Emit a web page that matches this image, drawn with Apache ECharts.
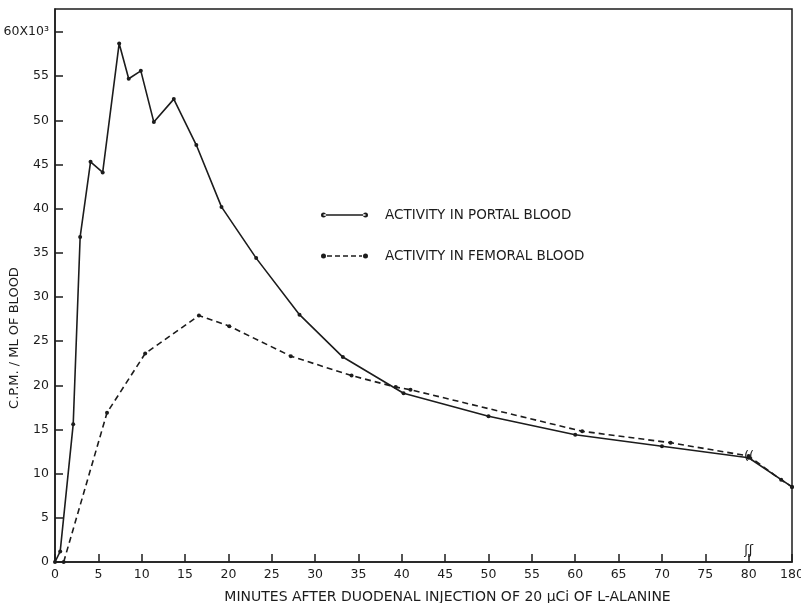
<!DOCTYPE html>
<html>
<head>
<meta charset="utf-8">
<script src="https://cdn.jsdelivr.net/npm/echarts@6/dist/echarts.min.js"></script>
<style>
  html, body { margin: 0; padding: 0; background: #fff; }
  #main { width: 801px; height: 603px; }
</style>
</head>
<body>
<div id="main"></div>
<script>
// minutes after injection / counts per minute (x10^3)
var portalMin = [0, 0.6, 2.1, 2.9, 4.1, 5.5, 7.4, 8.5, 9.9, 11.4, 13.7, 16.3, 19.2, 23.2, 28.2, 33.2, 40.2, 50, 60, 70, 80, 180];
var portalCpm = [0, 1.2, 15.6, 36.8, 45.3, 44.1, 58.7, 54.7, 55.6, 49.8, 52.4, 47.2, 40.2, 34.4, 28.0, 23.2, 19.1, 16.5, 14.4, 13.1, 11.8, 8.5];
var femoralMin = [1, 6, 10.4, 16.6, 20.1, 27.2, 34.2, 39.3, 41, 60.8, 71, 80, 155, 180];
var femoralCpm = [0, 16.9, 23.6, 27.9, 26.7, 23.3, 21.1, 19.8, 19.5, 14.8, 13.5, 12.0, 9.3, 8.5];
var yTicks = [0, 5, 10, 15, 20, 25, 30, 35, 40, 45, 50, 55, 60];

var ink = '#1c1c1c';
var font = 'DejaVu Sans';

// axis is broken after 80 min: 80..180 squeezed into one 5-min step
function toAxis(m) {
    return m <= 80 ? m : 80 + (m - 80) / 20;
}
function pairs(xs, ys) {
    var out = [];
    for (var i = 0; i < xs.length; i++) out.push([toAxis(xs[i]), ys[i]]);
    return out;
}

var solidIcon = 'path://M0,3a2.5,2.5 0 1,0 5,0a2.5,2.5 0 1,0 -5,0ZM2.5,2.3L44.5,2.3L44.5,3.7L2.5,3.7ZM42,3a2.5,2.5 0 1,0 5,0a2.5,2.5 0 1,0 -5,0Z';
var dashIcon = 'path://M0,3a2.5,2.5 0 1,0 5,0a2.5,2.5 0 1,0 -5,0ZM6,2.3L11,2.3L11,3.7L6,3.7ZM14,2.3L19,2.3L19,3.7L14,3.7ZM22,2.3L27,2.3L27,3.7L22,3.7ZM30,2.3L35,2.3L35,3.7L30,3.7ZM38,2.3L41,2.3L41,3.7L38,3.7ZM42,3a2.5,2.5 0 1,0 5,0a2.5,2.5 0 1,0 -5,0Z';

// little "((" marks where the time scale is broken
var breakMarks = {
    silent: true,
    symbol: 'rect', symbolSize: 2,
    itemStyle: { color: 'rgba(0,0,0,0)' },
    label: {
        show: true, position: 'inside',
        fontSize: 13, color: ink, fontFamily: font,
        formatter: function (p) { return p.name; }
    },
    data: [
        { name: '((', coord: [toAxis(81), 11.9] },
        { name: 'ʃʃ', coord: [toAxis(80), 1.3] }
    ]
};

var myChart = echarts.init(document.getElementById('main'));
var option = {
    backgroundColor: '#fff',
    animation: false,
    textStyle: { fontFamily: font, color: ink },
    grid: {
        left: 55, right: 9, top: 9, bottom: 41,
        outerBoundsMode: 'none',
        show: true, borderColor: ink, borderWidth: 1.5
    },
    legend: {
        orient: 'vertical',
        left: 316, top: 203,
        itemWidth: 47, itemHeight: 6, itemGap: 27,
        textStyle: { fontSize: 13.5, color: ink, padding: [0, 0, 0, 12] },
        data: [
            { name: 'ACTIVITY IN PORTAL BLOOD', icon: solidIcon },
            { name: 'ACTIVITY IN FEMORAL BLOOD', icon: dashIcon }
        ]
    },
    xAxis: {
        type: 'value',
        min: 0, max: 85, interval: 5,
        name: 'MINUTES AFTER DUODENAL INJECTION OF 20 μCi OF L-ALANINE',
        nameLocation: 'middle', nameGap: 28,
        nameTextStyle: { fontSize: 14, color: ink, padding: [0, 0, 0, 48] },
        axisLine: { lineStyle: { color: ink, width: 1.5 } },
        axisTick: { inside: true, length: 8, lineStyle: { color: ink, width: 1.5 } },
        axisLabel: {
            fontSize: 12.5, color: ink, margin: 6,
            formatter: function (v) { return v === 85 ? '180' : String(v); }
        },
        splitLine: { show: false }
    },
    yAxis: {
        type: 'value',
        min: 0, max: 62.6,
        axisLine: { show: true, lineStyle: { color: ink, width: 1.5 } },
        axisTick: { show: true, inside: true, length: 8, customValues: yTicks, lineStyle: { color: ink, width: 1.5 } },
        axisLabel: {
            fontSize: 12.5, color: ink, margin: 6, customValues: yTicks,
            formatter: function (v) { return v === 60 ? '60X10³' : String(v); }
        },
        splitLine: { show: false }
    },
    graphic: [{
        type: 'text',
        x: 15, y: 338, rotation: Math.PI / 2,
        style: {
            text: 'C.P.M. / ML OF BLOOD',
            font: '13px "DejaVu Sans"', fill: ink,
            align: 'center', verticalAlign: 'middle'
        }
    }],
    series: [{
        name: 'ACTIVITY IN PORTAL BLOOD',
        type: 'line',
        data: pairs(portalMin, portalCpm),
        symbol: 'circle', symbolSize: 4,
        itemStyle: { color: ink },
        lineStyle: { color: ink, width: 1.6 },
        markPoint: breakMarks
    }, {
        name: 'ACTIVITY IN FEMORAL BLOOD',
        type: 'line',
        data: pairs(femoralMin, femoralCpm),
        symbol: 'circle', symbolSize: 4,
        itemStyle: { color: ink },
        lineStyle: { color: ink, width: 1.6, type: [6, 4] }
    }]
};
myChart.setOption(option);
</script>
</body>
</html>
